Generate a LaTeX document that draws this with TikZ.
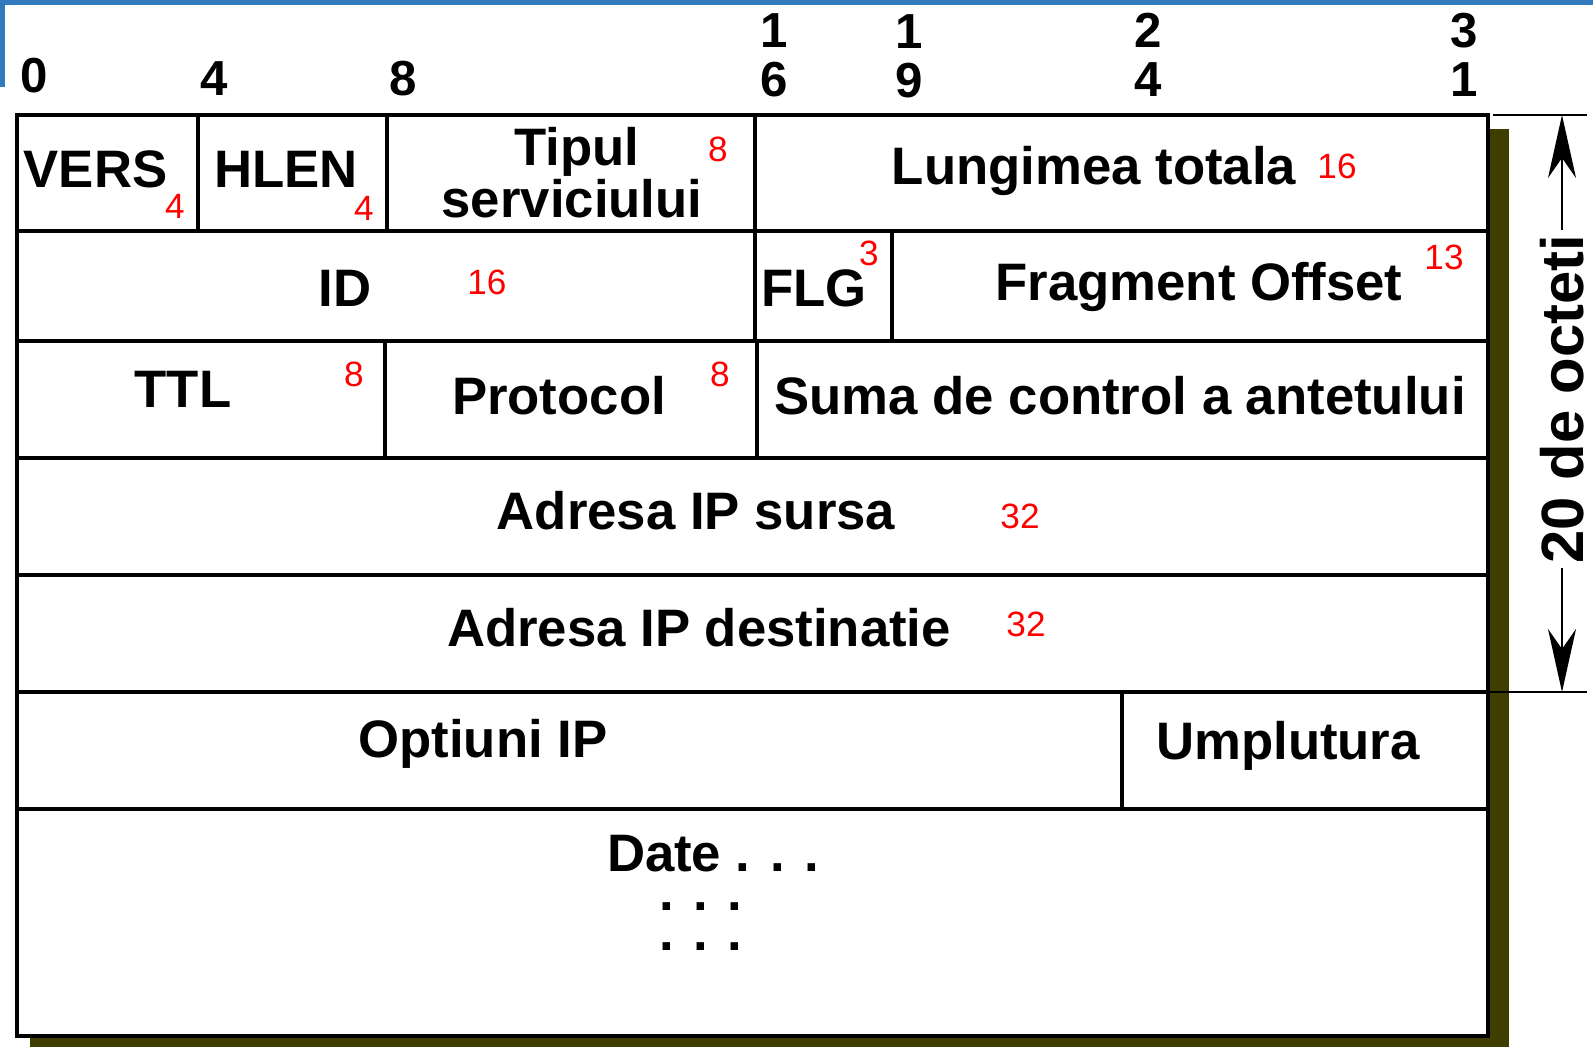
\documentclass[tikz,border=0pt]{standalone}
\usepackage{fontspec}
\setmainfont{Liberation Sans}
\usepackage{xcolor}
\usetikzlibrary{arrows.meta}

\definecolor{frameblue}{RGB}{49,122,189}
\definecolor{shadowolive}{RGB}{64,61,0}

\tikzset{
	field/.style={font=\fontsize{15}{16}\selectfont\bfseries, anchor=base, inner sep=0pt},
	bits/.style={text=red, font=\fontsize{10}{11}\selectfont, inner sep=0pt},
	bitno/.style={font=\fontsize{14}{14}\selectfont\bfseries, align=center, inner sep=0pt},
	rule/.style={line width=1.3pt},
	dimline/.style={line width=0.6pt},
	dimarrow/.style={-{Stealth[length=6.3mm,width=2.8mm,inset=2mm]}, line width=0.5pt},
}

\begin{document}
\begin{tikzpicture}[x=1cm,y=-1cm]
		\useasboundingbox (0,0) rectangle (15.93,10.49);
		% blue corner of the slide
		\fill[frameblue] (0,0) rectangle (15.93,0.05);
		\fill[frameblue] (0,0) rectangle (0.05,0.87);
		
		% bit positions
		\node[bitno,anchor=base] (b0) at (0.34,0.93) {0};
		\node[bitno,anchor=base] (b4) at (2.14,0.96) {4};
		\node[bitno,anchor=base] (b8) at (4.03,0.96) {8};
		\node[bitno] (b16) at (7.74,0.55) {1\\6};
		\node[bitno] (b19) at (9.09,0.56) {1\\9};
		\node[bitno] (b24) at (11.48,0.55) {2\\4};
		\node[bitno] (b31) at (14.64,0.55) {3\\1};
		
		% header box with shadow
		\fill[shadowolive] (0.30,1.29) rectangle (15.09,10.47);
		\draw[rule,fill=white] (0.17,1.15) rectangle (14.88,10.36);
		\foreach \y in {2.31,3.41,4.58,5.75,6.92,8.09}
			\draw[rule] (0.17,\y) -- (14.88,\y);
		\draw[rule] (1.98,1.15) -- (1.98,2.31);
		\draw[rule] (3.87,1.15) -- (3.87,2.31);
		\draw[rule] (7.55,1.15) -- (7.55,3.41);
		\draw[rule] (8.92,2.31) -- (8.92,3.41);
		\draw[rule] (3.85,3.41) -- (3.85,4.58);
		\draw[rule] (7.57,3.41) -- (7.57,4.58);
		\draw[rule] (11.22,6.92) -- (11.22,8.09);
		
		% fields
		\node[field] (vers) at (0.955,1.88) {VERS};
		\node[field] (hlen) at (2.86,1.88) {HLEN};
		\node[field] (tos1) at (5.77,1.66) {Tipul};
		\node[field] (tos2) at (5.72,2.18) {serviciului};
		\node[field] (len) at (10.94,1.85) {Lungimea totala};
		\node[field] (id) at (3.45,3.07) {ID};
		\node[field] (flg) at (8.14,3.07) {FLG};
		\node[field] (frag) at (11.99,3.01) {Fragment Offset};
		\node[field] (ttl) at (1.83,4.08) {TTL};
		\node[field] (proto) at (5.59,4.15) {Protocol};
		\node[field] (csum) at (11.20,4.15) {Suma de control a antetului};
		\node[field] (src) at (6.96,5.30) {Adresa IP sursa};
		\node[field] (dst) at (6.99,6.47) {Adresa IP destinatie};
		\node[field] (opt) at (4.83,7.58) {Optiuni IP};
		\node[field] (pad) at (12.88,7.60) {Umplutura};
		\node[field] (data) at (7.13,8.72) {Date . . .};
		\node[field] (dots1) at (7.01,9.11) {. . .};
		\node[field] (dots2) at (7.01,9.51) {. . .};
		
		% field sizes in bits
		\node[bits] (nvers) at (1.75,2.06) {4};
		\node[bits] (nhlen) at (3.64,2.08) {4};
		\node[bits] (ntos) at (7.18,1.49) {8};
		\node[bits] (nlen) at (13.37,1.66) {16};
		\node[bits] (nid) at (4.87,2.82) {16};
		\node[bits] (nflg) at (8.69,2.53) {3};
		\node[bits] (nfrag) at (14.44,2.57) {13};
		\node[bits] (nttl) at (3.54,3.74) {8};
		\node[bits] (nproto) at (7.20,3.74) {8};
		\node[bits] (nsrc) at (10.20,5.16) {32};
		\node[bits] (ndst) at (10.26,6.24) {32};
		
		% header length
		\draw[dimline] (14.93,1.15) -- (15.87,1.15);
		\draw[dimline] (14.90,6.92) -- (15.87,6.92);
		\coordinate (dimtop) at (15.62,1.15);
		\coordinate (dimbot) at (15.62,6.92);
		\node[rotate=90,font=\fontsize{17}{17}\selectfont\bfseries,inner sep=1pt] (octeti) at (15.62,3.99) {20 de octeti};
		\draw[dimarrow] (octeti.east) -- (dimtop);
		\draw[dimarrow] (octeti.west) -- (dimbot);
	\end{tikzpicture}
\end{document}
